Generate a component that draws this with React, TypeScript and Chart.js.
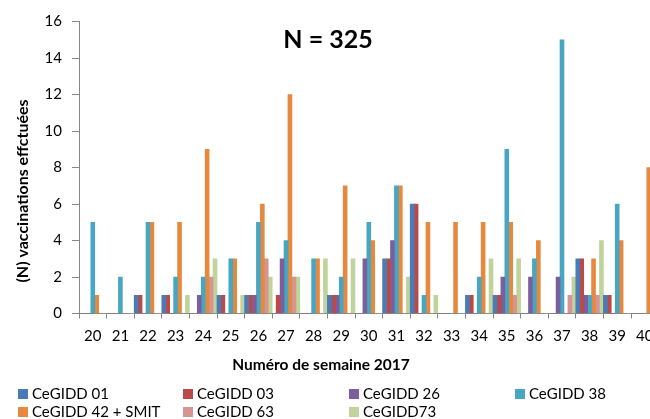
import { useEffect, useRef } from "react";
import { Chart, registerables } from "chart.js";

Chart.register(...registerables);

const weeks = ["20", "21", "22", "23", "24", "25", "26", "27", "28", "29", "30", "31", "32", "33", "34", "35", "36", "37", "38", "39", "40"];
const cegidd01 = [0, 0, 1, 1, 0, 1, 1, 0, 0, 1, 0, 3, 6, 0, 1, 1, 0, 0, 3, 1, 0];
const cegidd03 = [0, 0, 1, 1, 0, 1, 1, 1, 0, 1, 0, 3, 6, 0, 1, 1, 0, 0, 3, 1, 0];
const cegidd26 = [0, 0, 0, 0, 1, 0, 1, 3, 0, 1, 3, 4, 0, 0, 0, 2, 2, 2, 1, 0, 0];
const cegidd38 = [5, 2, 5, 2, 2, 3, 5, 4, 3, 2, 5, 7, 1, 0, 2, 9, 3, 15, 1, 6, 0];
const cegidd42 = [1, 0, 5, 5, 9, 3, 6, 12, 3, 7, 4, 7, 5, 5, 5, 5, 4, 0, 3, 4, 8];
const cegidd63 = [0, 0, 0, 0, 2, 0, 3, 2, 0, 0, 0, 0, 0, 0, 0, 1, 0, 1, 1, 0, 0];
const cegidd73 = [0, 0, 0, 1, 3, 1, 2, 2, 3, 3, 0, 2, 1, 0, 3, 3, 0, 2, 4, 0, 0];
const seriesNames = ["CeGIDD 01", "CeGIDD 03", "CeGIDD 26", "CeGIDD 38", "CeGIDD 42 + SMIT", "CeGIDD 63", "CeGIDD73"];
const seriesColors = ["#4A7BB6", "#BA4A47", "#7A5E9E", "#47A6C1", "#E6893E", "#D69593", "#BFD39B"];
const yTicks = [0, 2, 4, 6, 8, 10, 12, 14, 16];

const chartTitle = "N = 325";
const yTitle = "(N) vaccinations effctuées";
const xTitle = "Numéro de semaine 2017";

const FONT = "Lato, 'Liberation Sans', sans-serif";

const textPlugin = {
  id: "textPlugin",
  afterDraw(chart: any) {
    const ctx = chart.ctx as CanvasRenderingContext2D;
    ctx.save();
    ctx.fillStyle = "#000";
    ctx.textAlign = "center";
    ctx.textBaseline = "middle";
    ctx.font = `bold 25px ${FONT}`;
    ctx.fillText(chartTitle, 328, 40);
    ctx.font = `bold 15.5px ${FONT}`;
    ctx.fillText(xTitle, 321, 365);
    ctx.save();
    ctx.font = `bold 16px ${FONT}`;
    ctx.translate(22.5, 191);
    ctx.rotate(-Math.PI / 2);
    ctx.fillText(yTitle, 0, 0);
    ctx.restore();
    // legend
    const cols = [18, 183, 349, 515];
    const rows = [394, 412];
    ctx.textAlign = "left";
    ctx.font = `15px ${FONT}`;
    chart.data.datasets.forEach((ds: any, i: number) => {
      const x = cols[i % 4];
      const y = rows[Math.floor(i / 4)];
      ctx.fillStyle = ds.backgroundColor;
      ctx.fillRect(x, y - 5, 10, 10);
      ctx.fillStyle = "#000";
      ctx.fillText(ds.label, x + 14, y);
    });
    ctx.restore();
  },
};

export default function App() {
  const ref = useRef<HTMLCanvasElement>(null);
  useEffect(() => {
    if (!ref.current) return;
    const chart = new Chart(ref.current, {
      type: "bar",
      data: {
        labels: weeks,
        datasets: [cegidd01, cegidd03, cegidd26, cegidd38, cegidd42, cegidd63, cegidd73].map((d, i) => ({
          label: seriesNames[i],
          data: d,
          backgroundColor: seriesColors[i],
          borderWidth: 0,
          barPercentage: 1,
          categoryPercentage: 1,
        })),
      },
      options: {
        animation: false,
        responsive: false,
        devicePixelRatio: 1,
        layout: { padding: { left: 0, top: 21.5, right: 21.4, bottom: 75.5 } },
        plugins: { legend: { display: false }, tooltip: { enabled: false }, title: { display: false } },
        scales: {
          x: {
            grid: { drawOnChartArea: false, tickLength: 5, color: "#868686", offset: true },
            border: { color: "#868686" },
            ticks: { color: "#000", padding: 9, font: { family: FONT, size: 15 } },
            afterFit: (s: any) => { s.height = 30; },
          },
          y: {
            min: 0,
            max: 16,
            grid: { drawOnChartArea: false, tickLength: 7, color: "#868686" },
            border: { color: "#868686" },
            afterBuildTicks: (s: any) => { s.ticks = yTicks.map((v) => ({ value: v })); },
            ticks: { color: "#000", padding: 10, font: { family: FONT, size: 15 } },
            afterFit: (s: any) => { s.width = 79; },
          },
        },
      },
      plugins: [textPlugin],
    });
    return () => chart.destroy();
  }, []);
  return (
    <div style={{ position: "fixed", left: 0, top: 0, width: 650, height: 419, overflow: "hidden", background: "#fff" }}>
      <canvas ref={ref} width={680} height={419} style={{ width: 680, height: 419, display: "block" }} />
    </div>
  );
}
